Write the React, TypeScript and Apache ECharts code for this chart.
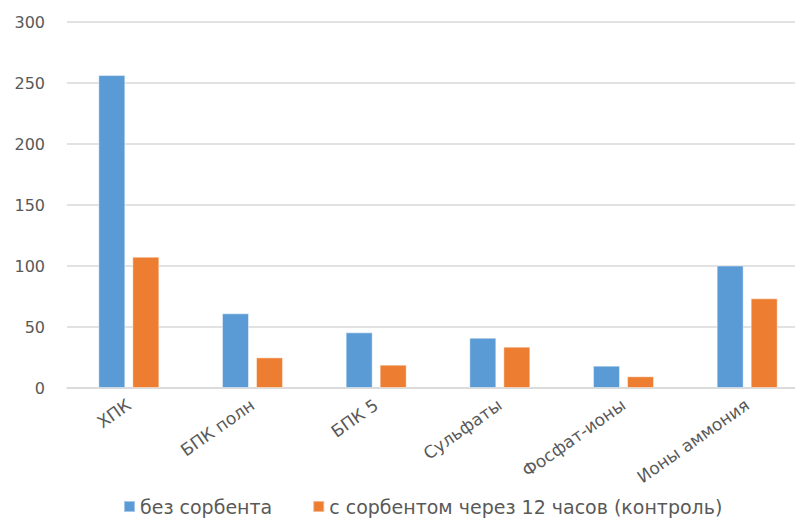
import React, { useEffect, useRef } from "react";
import * as echarts from "echarts";

const categories = ["ХПК", "БПК полн", "БПК 5", "Сульфаты", "Фосфат-ионы", "Ионы аммония"];
const seriesNames = ["без сорбента", "с сорбентом через 12 часов (контроль)"];
const withoutSorbent = [256.5, 61.2, 45.6, 41.2, 18.3, 100.4];
const withSorbent = [107.6, 25.1, 19.1, 33.9, 9.6, 73.5];
const yTicks = { min: 0, max: 300, interval: 50 };

export default function App() {
  const ref = useRef<HTMLDivElement>(null);
  useEffect(() => {
    document.body.style.margin = "0";
    if (!ref.current) return;
    const chart = echarts.init(ref.current, null, { renderer: "svg" });
    const font = "DejaVu Sans";
    chart.setOption({
      animation: false,
      backgroundColor: "#ffffff",
      textStyle: { fontFamily: font },
      grid: { left: 67, top: 22, width: 742, height: 366, containLabel: false, outerBoundsMode: "none" },
      legend: {
        bottom: 1,
        left: 118,
        itemWidth: 11,
        itemHeight: 11,
        itemGap: 40,
        icon: "rect",
        textStyle: { fontSize: 19, color: "#595959", fontFamily: font },
        data: seriesNames,
      },
      xAxis: {
        type: "category",
        data: categories,
        axisLine: { show: true, lineStyle: { color: "#D9D9D9", width: 1.5 } },
        axisTick: { show: false },
        axisLabel: { rotate: 35, fontSize: 17, color: "#595959", margin: 15, interval: 0, fontFamily: font },
      },
      yAxis: {
        type: "value",
        min: yTicks.min,
        max: yTicks.max,
        interval: yTicks.interval,
        axisLine: { show: false },
        axisTick: { show: false },
        axisLabel: { fontSize: 16, color: "#595959", margin: 22, fontFamily: font },
        splitLine: { lineStyle: { color: "#D9D9D9", width: 1.5 } },
      },
      series: [
        {
          name: seriesNames[0],
          type: "bar",
          data: withoutSorbent,
          barWidth: 27,
          barGap: "26%",
          itemStyle: { color: "#5B9BD5", borderColor: "rgba(255,255,255,0.45)", borderWidth: 1 },
        },
        {
          name: seriesNames[1],
          type: "bar",
          data: withSorbent,
          barWidth: 27,
          barGap: "26%",
          itemStyle: { color: "#ED7D31", borderColor: "rgba(255,255,255,0.45)", borderWidth: 1 },
        },
      ],
    });
    return () => chart.dispose();
  }, []);
  return <div ref={ref} style={{ width: 795, height: 522 }} />;
}
